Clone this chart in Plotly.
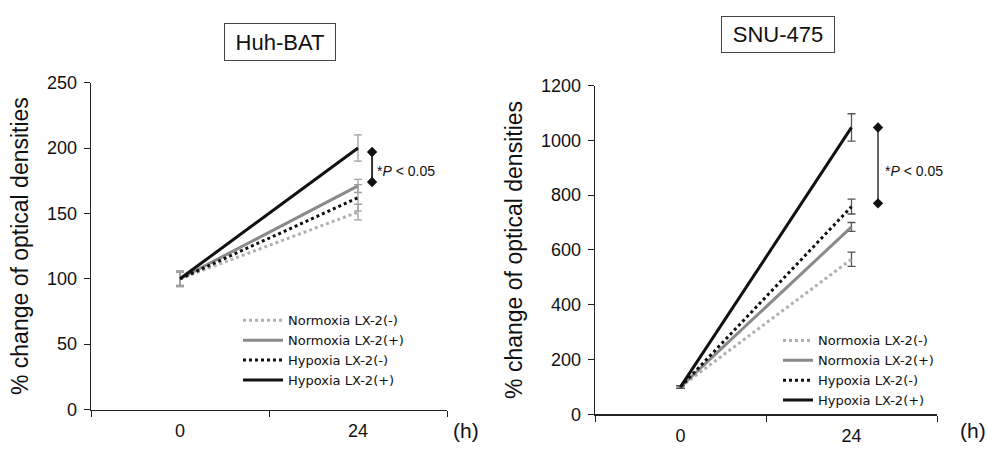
import plotly.graph_objects as go

# ---------------- data ----------------
time_labels = ["0", "24"]
series_names = ["Normoxia LX-2(-)", "Normoxia LX-2(+)", "Hypoxia LX-2(-)", "Hypoxia LX-2(+)"]

huh_normoxia_neg = [100, 151]
huh_normoxia_pos = [100, 171]
huh_hypoxia_neg = [100, 162]
huh_hypoxia_pos = [100, 200]
huh_err_normoxia_neg = [6, 6]
huh_err_normoxia_pos = [5, 5]
huh_err_hypoxia_neg = [5, 10]
huh_err_hypoxia_pos = [6, 10]

snu_normoxia_neg = [100, 566]
snu_normoxia_pos = [100, 684]
snu_hypoxia_neg = [100, 758]
snu_hypoxia_pos = [100, 1047]
snu_err_normoxia_neg = [5, 26]
snu_err_normoxia_pos = [5, 16]
snu_err_hypoxia_neg = [5, 27]
snu_err_hypoxia_pos = [5, 50]

huh_sig_bracket = [197, 174]
snu_sig_bracket = [1047, 770]

# ---------------- layout helpers ----------------
W, H = 987, 453


def px(x):
    return x / W


def py(y):
    return 1 - y / H


# ---------------- styles ----------------
styles = [
    dict(color="#b0b0b0", dash="dot", width=3),
    dict(color="#8a8a8a", dash="solid", width=3),
    dict(color="#111111", dash="dot", width=3),
    dict(color="#111111", dash="solid", width=3),
]
FONT = "Liberation Sans, Arial, sans-serif"
LEG_FONT = "DejaVu Sans, sans-serif"

fig = go.Figure()

huh_vals = [huh_normoxia_neg, huh_normoxia_pos, huh_hypoxia_neg, huh_hypoxia_pos]
huh_errs = [huh_err_normoxia_neg, huh_err_normoxia_pos, huh_err_hypoxia_neg, huh_err_hypoxia_pos]
snu_vals = [snu_normoxia_neg, snu_normoxia_pos, snu_hypoxia_neg, snu_hypoxia_pos]
snu_errs = [snu_err_normoxia_neg, snu_err_normoxia_pos, snu_err_hypoxia_neg, snu_err_hypoxia_pos]

for name, vals, errs, st in zip(series_names, huh_vals, huh_errs, styles):
    fig.add_trace(go.Scatter(
        x=time_labels, y=vals, name=name, mode="lines",
        line=st, xaxis="x", yaxis="y", legend="legend",
        error_y=dict(type="data", array=errs, color="#a0a0a0", thickness=1.3, width=4),
    ))

for name, vals, errs, st in zip(series_names, snu_vals, snu_errs, styles):
    fig.add_trace(go.Scatter(
        x=time_labels, y=vals, name=name, mode="lines",
        line=st, xaxis="x2", yaxis="y2", legend="legend2",
        error_y=dict(type="data", array=errs, color="#555555", thickness=1.3, width=4),
    ))

# significance brackets (on hidden overlay linear axes)
fig.add_trace(go.Scatter(
    x=[1.079, 1.079], y=huh_sig_bracket, mode="lines+markers", showlegend=False,
    line=dict(color="#333333", width=2), marker=dict(symbol="diamond", size=8, color="#111111"),
    xaxis="x3", yaxis="y", hoverinfo="skip",
))
fig.add_trace(go.Scatter(
    x=[1.155, 1.155], y=snu_sig_bracket, mode="lines+markers", showlegend=False,
    line=dict(color="#333333", width=1.5), marker=dict(symbol="diamond", size=8, color="#111111"),
    xaxis="x4", yaxis="y2", hoverinfo="skip",
))

axis_common = dict(showline=True, linecolor="#222222", linewidth=1.3, ticks="outside",
                   ticklen=6, tickcolor="#222222", showgrid=False, zeroline=False,
                   tickfont=dict(family=FONT, size=18, color="#111111"))

fig.update_layout(
    width=W, height=H,
    margin=dict(l=0, r=0, t=0, b=0),
    paper_bgcolor="white", plot_bgcolor="white",
    hovermode=False,
    xaxis=dict(domain=[px(91), px(447)], type="category", tickson="boundaries",
               range=[-0.5, 1.5], anchor="y", ticklabelstandoff=5, **axis_common),
    yaxis=dict(domain=[py(418), py(76)], range=[0, 250], dtick=50, anchor="x",
               ticklabelstandoff=3,
               title=dict(text="% change of optical densities", standoff=12,
                          font=dict(family=FONT, size=23, color="#111111")),
               **axis_common),
    xaxis2=dict(domain=[px(595), px(937)], type="category", tickson="boundaries",
                range=[-0.5, 1.5], anchor="y2", ticklabelstandoff=5, **axis_common),
    yaxis2=dict(domain=[py(423), py(79)], range=[0, 1200], dtick=200, anchor="x2",
                ticklabelstandoff=3,
                title=dict(text="% change of optical densities", standoff=12,
                           font=dict(family=FONT, size=23, color="#111111")),
                **axis_common),
    xaxis3=dict(overlaying="x", range=[-0.5, 1.5], visible=False, anchor="y"),
    xaxis4=dict(overlaying="x2", range=[-0.5, 1.5], visible=False, anchor="y2"),
    legend=dict(x=px(238), y=py(309), xanchor="left", yanchor="top", itemwidth=40,
                bgcolor="rgba(0,0,0,0)", font=dict(family=LEG_FONT, size=13, color="#111111"),
                tracegroupgap=0),
    legend2=dict(x=px(778), y=py(330), xanchor="left", yanchor="top",
                 bgcolor="rgba(0,0,0,0)", font=dict(family=LEG_FONT, size=13, color="#111111"),
                 tracegroupgap=0),
    showlegend=True,
)

annotations = [
    dict(text="Huh-BAT", xref="paper", yref="paper", x=px(280), y=py(34),
         xanchor="center", yanchor="middle",
         showarrow=False, font=dict(family=FONT, size=22, color="#111111"),
         width=108, height=34, bordercolor="#444444", borderwidth=1, bgcolor="white"),
    dict(text="SNU-475", xref="paper", yref="paper", x=px(778), y=py(26),
         xanchor="center", yanchor="middle",
         showarrow=False, font=dict(family=FONT, size=22, color="#111111"),
         width=110, height=33, bordercolor="#444444", borderwidth=1, bgcolor="white"),
    dict(text="*<i>P</i> < 0.05", xref="paper", yref="paper", x=px(375), y=py(168),
         xanchor="left", yanchor="middle", showarrow=False,
         font=dict(family=FONT, size=14, color="#111111")),
    dict(text="*<i>P</i> < 0.05", xref="paper", yref="paper", x=px(883), y=py(168),
         xanchor="left", yanchor="middle", showarrow=False,
         font=dict(family=FONT, size=14, color="#111111")),
    dict(text="(h)", xref="paper", yref="paper", x=px(466), y=py(440),
         xanchor="center", yanchor="middle",
         showarrow=False, font=dict(family=FONT, size=21, color="#111111")),
    dict(text="(h)", xref="paper", yref="paper", x=px(973), y=py(440),
         xanchor="center", yanchor="middle",
         showarrow=False, font=dict(family=FONT, size=21, color="#111111")),
]
fig.update_layout(annotations=annotations)

# remove the default 8px page margin so the figure sits at the window's top-left corner
fig.write_html("out.html",
               config={"displayModeBar": False, "staticPlot": True},
               post_script="document.body.style.margin='0';document.body.style.overflow='hidden';")
